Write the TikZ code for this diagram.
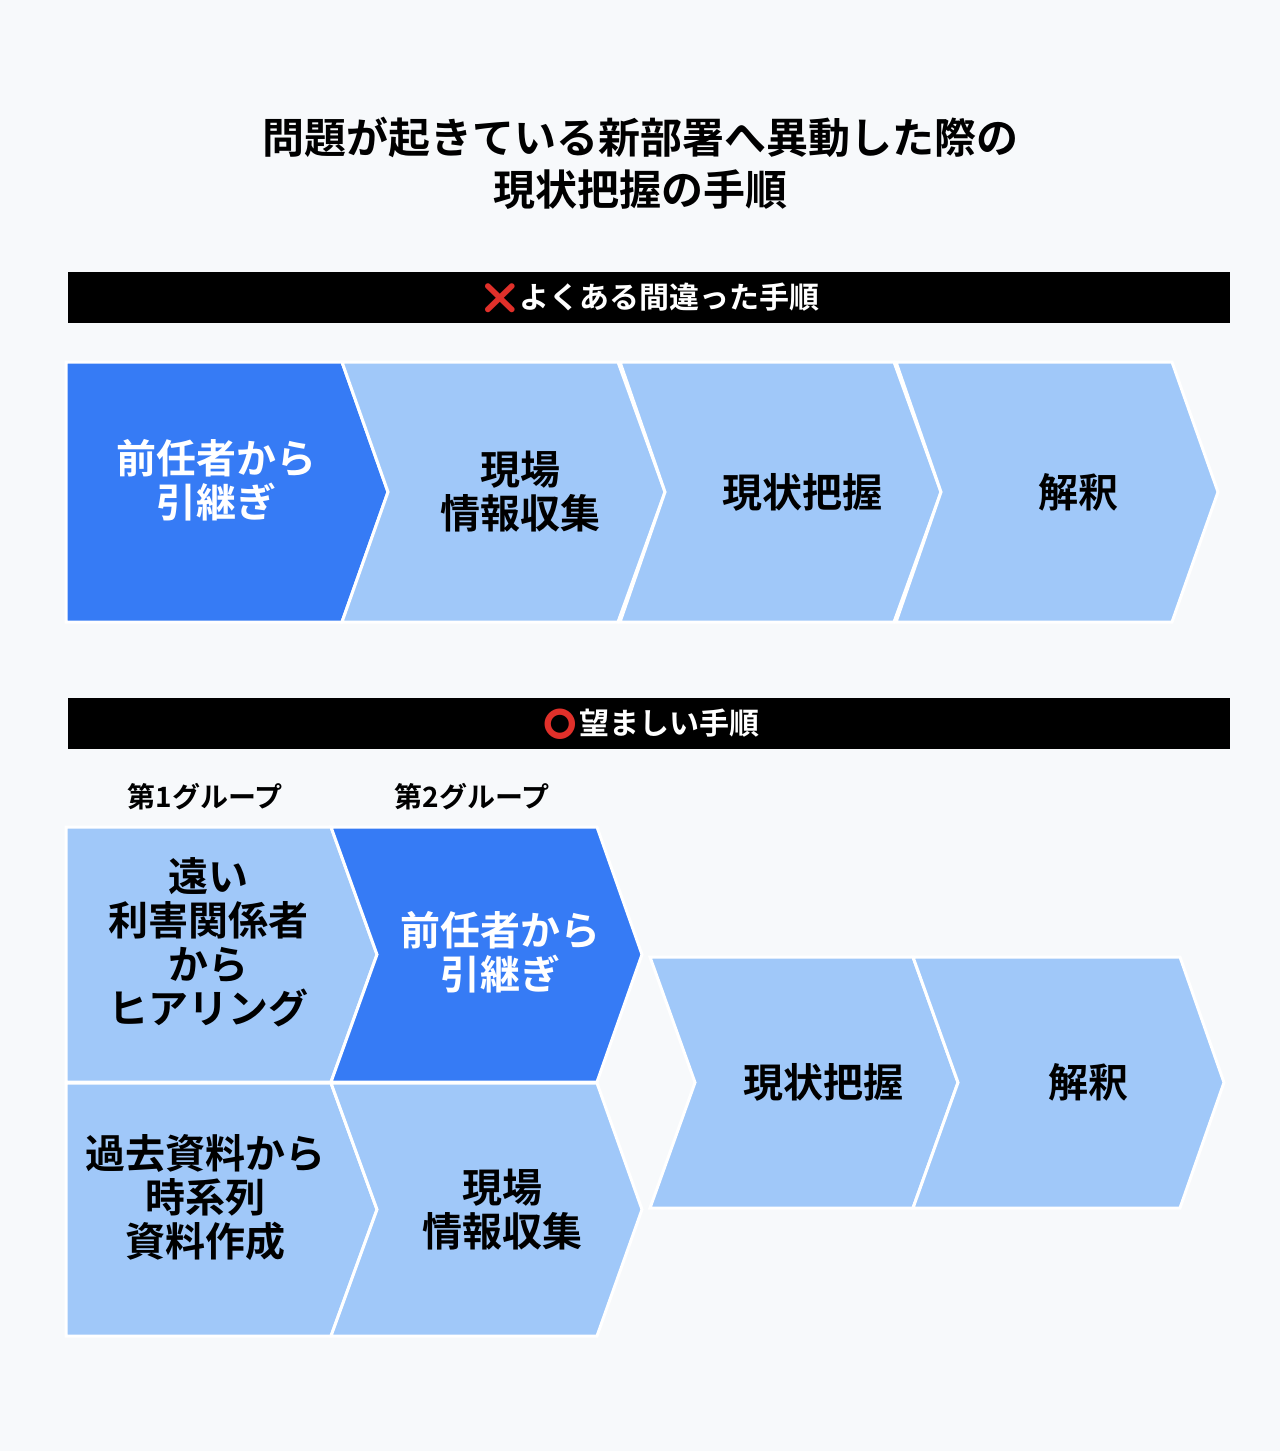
\documentclass[tikz,border=0pt]{standalone}
\usepackage{fontspec}
\setmainfont{Noto Sans CJK JP Bold}
\newfontfamily\emo{Noto Emoji}
\definecolor{bg}{HTML}{F7F9FB}
\definecolor{dk}{HTML}{367BF5}
\definecolor{lt}{HTML}{A0C8F9}
\definecolor{xr}{HTML}{E0302A}
\newcommand\mychev[7]{% x1 x2 ytop ybot notch tip color
  \pgfmathsetmacro\ym{(#3+#4)/2}
  \fill[#7,draw=white,line width=3pt,line join=miter] (#1,#3) -- (#2,#3) -- (#6,\ym) -- (#2,#4) -- (#1,#4) -- (#5,\ym) -- cycle;}
\tikzset{big/.style={font=\fontsize{40}{44}\selectfont,align=center,text=black,inner sep=0pt},
 bar/.style={font=\fontsize{30}{34}\selectfont,text=white},
 grp/.style={font=\fontsize{28}{32}\selectfont}}
\begin{document}
\begin{tikzpicture}[x=1pt,y=-1pt]
\fill[bg] (0,0) rectangle (1280,1451);
\useasboundingbox (0,0) rectangle (1280,1451);
\node[big,font=\fontsize{42}{52}\selectfont] (title) at (640,163) {問題が起きている新部署へ異動した際の\\現状把握の手順};
\fill[black] (68,272) rectangle (1230,323);
\node[bar] (bar1) at (650,298) {{\emo\color{xr}❌}よくある間違った手順};
\fill[black] (68,698) rectangle (1230,749);
\node[bar] (bar2) at (650,724) {{\emo\color{xr}⭕}望ましい手順};
% top
\mychev{66}{342}{362}{622}{66}{388}{dk}
\mychev{342}{618}{362}{622}{388}{665}{lt}
\mychev{620}{894}{362}{622}{665}{941}{lt}
\mychev{896}{1172}{362}{622}{941}{1218}{lt}
\node[big,text=white] (a1) at (216,480) {前任者から\\引継ぎ};
\node[big] (a2) at (520,492) {現場\\情報収集};
\node[big] (a3) at (802,492) {現状把握};
\node[big] (a4) at (1078,492) {解釈};
% bottom
\node[grp] (g1) at (205,797) {第1グループ};
\node[grp] (g2) at (472,797) {第2グループ};
\mychev{66}{331}{827}{1082}{66}{377}{lt}
\mychev{66}{331}{1083}{1336}{66}{377}{lt}
\mychev{331}{597}{827}{1082}{377}{642}{dk}
\mychev{331}{597}{1083}{1336}{377}{642}{lt}
\mychev{650}{913}{957}{1208}{695}{958}{lt}
\mychev{913}{1180}{957}{1208}{958}{1224}{lt}
\node[big] (b1) at (208,942) {遠い\\利害関係者\\から\\ヒアリング};
\node[big] (b2) at (205,1198) {過去資料から\\時系列\\資料作成};
\node[big,text=white] (b3) at (500,952) {前任者から\\引継ぎ};
\node[big] (b4) at (502,1210) {現場\\情報収集};
\node[big] (b5) at (823,1082) {現状把握};
\node[big] (b6) at (1088,1082) {解釈};
\end{tikzpicture}
\end{document}
